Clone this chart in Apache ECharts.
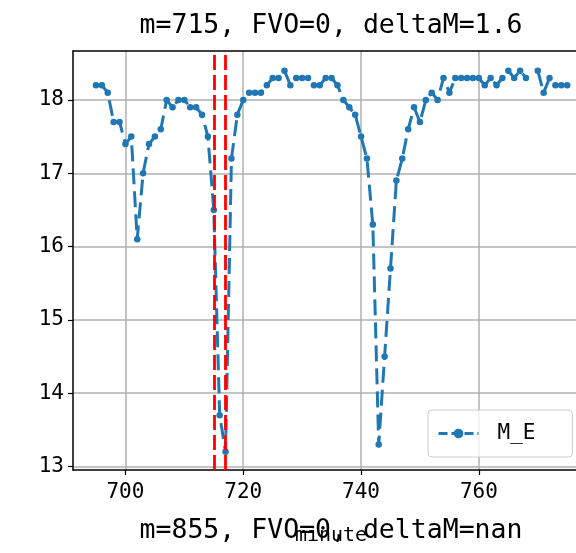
<!DOCTYPE html>
<html>
<head>
<meta charset="utf-8">
<script src="https://cdn.jsdelivr.net/npm/echarts@6/dist/echarts.min.js"></script>
<style>
  html, body { margin: 0; padding: 0; background: #ffffff; }
  #chart { width: 576px; height: 553px; }
</style>
</head>
<body>
<div id="chart"></div>
<script>
// Minute index and the M_E reading at each minute (null = missing sample)
const minutes = [
  695, 696, 697, 698, 699, 700, 701, 702, 703, 704,
  705, 706, 707, 708, 709, 710, 711, 712, 713, 714,
  715, 716, 717, 718, 719, 720, 721, 722, 723, 724,
  725, 726, 727, 728, 729, 730, 731, 732, 733, 734,
  735, 736, 737, 738, 739, 740, 741, 742, 743, 744,
  745, 746, 747, 748, 749, 750, 751, 752, 753, 754,
  755, 756, 757, 758, 759, 760, 761, 762, 763, 764,
  765, 766, 767, 768, 769, 770, 771, 772, 773, 774, 775
];
const mE = [
  18.2, 18.2, 18.1, 17.7, 17.7, 17.4, 17.5, 16.1, 17.0, 17.4,
  17.5, 17.6, 18.0, 17.9, 18.0, 18.0, 17.9, 17.9, 17.8, 17.5,
  16.5, 13.7, 13.2, 17.2, 17.8, 18.0, 18.1, 18.1, 18.1, 18.2,
  18.3, 18.3, 18.4, 18.2, 18.3, 18.3, 18.3, 18.2, 18.2, 18.3,
  18.3, 18.2, 18.0, 17.9, 17.8, 17.5, 17.2, 16.3, 13.3, 14.5,
  15.7, 16.9, 17.2, 17.6, 17.9, 17.7, 18.0, 18.1, 18.0, 18.3,
  18.1, 18.3, 18.3, 18.3, 18.3, 18.3, 18.2, 18.3, 18.2, 18.3,
  18.4, 18.3, 18.4, 18.3, null, 18.4, 18.1, 18.3, 18.2, 18.2, 18.2
];
// Event window markers
const eventMinutes = [715, 717];

// Tick labels
const xTicks = [700, 720, 740, 760];
const yTicks = [13, 14, 15, 16, 17, 18];

const titleText = 'm=715, FVO=0, deltaM=1.6';
const nextTitleText = 'm=855, FVO=0, deltaM=nan';
const xName = 'minute';
const seriesName = 'M_E';

const FONT = 'DejaVu Sans Mono';
const GRID_COLOR = '#b0b0b0';
const BLUE = '#1f77b4';

const chart = echarts.init(document.getElementById('chart'), null, { renderer: 'canvas' });

const points = minutes.map((m, i) => [m, mE[i]]);

const option = {
  animation: false,
  backgroundColor: '#ffffff',
  grid: { left: 73, width: 516, top: 51, height: 419, containLabel: false, outerBoundsMode: 'none' },
  xAxis: [
    {
      type: 'value',
      position: 'bottom',
      min: 691.1,
      max: 778.7,
      axisLine: { show: true, onZero: false, lineStyle: { color: '#000', width: 1.5 } },
      axisTick: { show: true, customValues: xTicks, length: 5, lineStyle: { color: '#000', width: 1.2 } },
      axisLabel: { customValues: xTicks, fontFamily: FONT, fontSize: 21, color: '#000', margin: 12 },
      splitLine: { show: true, lineStyle: { color: GRID_COLOR, width: 1.5 } }
    },
    {
      type: 'value',
      position: 'top',
      min: 691.1,
      max: 778.7,
      axisLine: { show: true, onZero: false, lineStyle: { color: '#000', width: 1.5 } },
      axisTick: { show: false },
      axisLabel: { show: false },
      splitLine: { show: false }
    }
  ],
  yAxis: {
    type: 'value',
    min: 12.952,
    max: 18.668,
    axisLine: { show: true, onZero: false, lineStyle: { color: '#000', width: 1.5 } },
    axisTick: { show: true, customValues: yTicks, length: 5, lineStyle: { color: '#000', width: 1.2 } },
    axisLabel: { customValues: yTicks, fontFamily: FONT, fontSize: 21, color: '#000', margin: 9 },
    splitLine: { show: true, lineStyle: { color: GRID_COLOR, width: 1.5 } }
  },
  legend: {
    left: 428,
    top: 410,
    orient: 'vertical',
    padding: [13, 37, 13, 9],
    itemWidth: 40,
    itemHeight: 12,
    backgroundColor: 'rgba(255,255,255,0.8)',
    borderColor: '#cccccc',
    borderWidth: 1,
    borderRadius: 4,
    textStyle: { fontFamily: FONT, fontSize: 21, color: '#000', padding: [0, 0, 0, 14] },
    data: [{
      name: seriesName,
      lineStyle: { color: BLUE, width: 3, type: [9, 4] },
      itemStyle: { color: BLUE }
    }]
  },
  series: [
    {
      name: seriesName,
      type: 'line',
      xAxisIndex: 0,
      data: points,
      connectNulls: false,
      symbol: 'circle',
      symbolSize: 6.5,
      showSymbol: true,
      itemStyle: { color: BLUE },
      lineStyle: { color: BLUE, width: 3, type: [16, 7] },
      z: 3,
      markLine: {
        silent: true,
        symbol: ['none', 'none'],
        label: { show: false },
        lineStyle: { color: '#ff0000', width: 2.8, type: [15, 5] },
        data: eventMinutes.map(m => ({ xAxis: m }))
      }
    }
  ],
  graphic: [
    {
      type: 'text',
      x: 331,
      y: 26,
      style: {
        text: titleText,
        font: '26.5px "' + FONT + '"',
        fill: '#000',
        textAlign: 'center',
        textVerticalAlign: 'middle'
      }
    },
    {
      type: 'text',
      x: 331,
      y: 531,
      style: {
        text: nextTitleText,
        font: '26.5px "' + FONT + '"',
        fill: '#000',
        textAlign: 'center',
        textVerticalAlign: 'middle'
      }
    },
    {
      type: 'text',
      x: 331,
      y: 536,
      style: {
        text: xName,
        font: '20px "' + FONT + '"',
        fill: '#000',
        textAlign: 'center',
        textVerticalAlign: 'middle'
      }
    }
  ]
};

chart.setOption(option);
</script>
</body>
</html>
